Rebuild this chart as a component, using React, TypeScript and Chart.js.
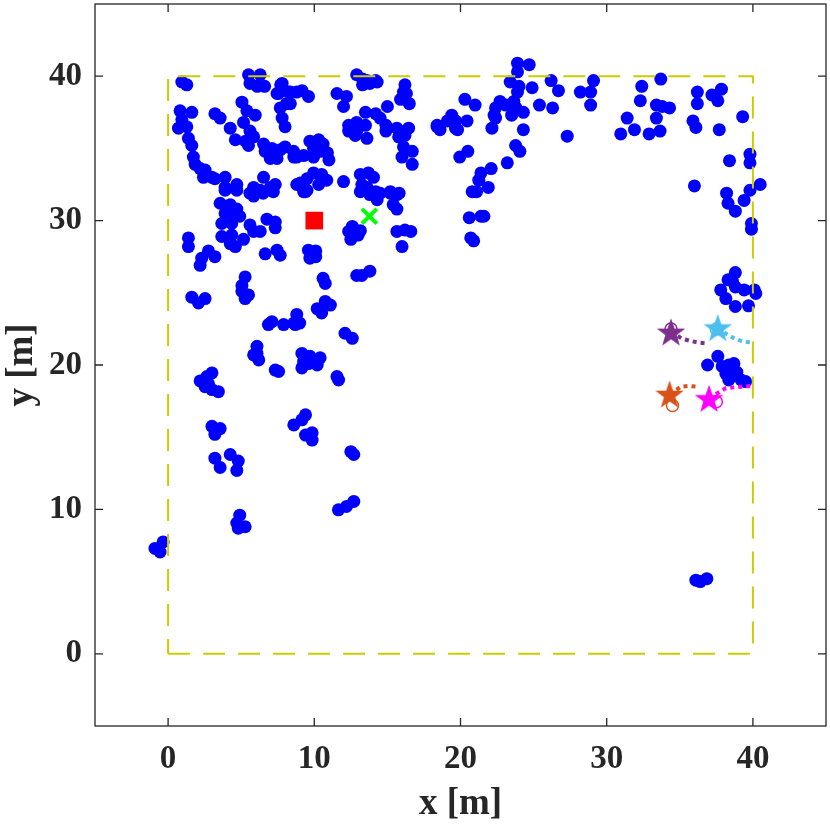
import { useEffect, useRef } from 'react'
import Chart from 'chart.js/auto'

const X_TICKS = [0, 10, 20, 30, 40]
const Y_TICKS = [0, 10, 20, 30, 40]

// dashed work area
const AREA: [number, number][] = [[0, 0], [40, 0], [40, 40], [0, 40], [0, 0]]

// obstacles (blue dots)
const OBSTACLES: [number, number][] = [
  [0.94, 39.6], [1.28, 39.4],
  [5.5, 40.1], [6.3, 40.1], [5.6, 39.5], [6.1, 39.3], [6.6, 39.3],
  [7.7, 39.4], [7.55, 38.8], [8.24, 38.9], [8.8, 38.9],
  [0.82, 37.6], [1.62, 37.5], [0.94, 37.0], [0.71, 36.4], [1.28, 36.5],
  [1.39, 35.7], [1.62, 35.2],
  [3.2, 37.4], [3.56, 37.1], [4.25, 36.4],
  [5.05, 38.2], [5.39, 37.6], [5.96, 37.3], [5.16, 36.8], [5.6, 36.2],
  [4.6, 35.6], [5.3, 35.5], [5.85, 35.8], [5.5, 35.2],
  [6.53, 35.3], [6.64, 34.8], [7.1, 35.0], [7.67, 34.9], [8.0, 35.1], [8.58, 34.8], [8.8, 34.4], [6.99, 34.3], [7.45, 34.3],
  [7.8, 39.5], [7.45, 38.8], [8.1, 38.1], [7.67, 37.8], [7.8, 37.1], [8.0, 36.5],
  [1.73, 34.4], [1.85, 33.9], [2.19, 33.6], [2.53, 33.5], [2.42, 33.0], [3.0, 33.0], [3.2, 32.9],
  [3.9, 33.0], [3.9, 32.3], [4.7, 32.5],
  [6.53, 33.0], [5.85, 32.3], [6.3, 32.1], [7.0, 32.3], [7.33, 32.5], [8.8, 32.5],
  [12.9, 40.1], [13.3, 39.8], [13.6, 39.7], [13.3, 39.4], [13.8, 39.5], [14.2, 39.7], [14.3, 39.6],
  [16.2, 39.4], [16.1, 38.9], [16.3, 38.8], [15.9, 38.4], [16.5, 38.1],
  [8.36, 38.9], [9.16, 39.0], [9.6, 38.6], [8.36, 38.1],
  [11.55, 38.8], [12.2, 38.6], [12.0, 37.9],
  [13.5, 37.5], [14.2, 37.4], [15.0, 37.9], [14.5, 37.1], [14.9, 36.6], [14.9, 36.2],
  [12.35, 36.6], [12.9, 36.8], [12.35, 36.2], [12.9, 36.2], [13.5, 36.6], [13.6, 35.7], [12.8, 35.9],
  [15.65, 36.4], [16.45, 36.4], [15.77, 35.8], [16.2, 35.9], [16.1, 35.1], [16.7, 34.8], [16.0, 34.4], [16.7, 33.9],
  [18.4, 36.5],
  [9.7, 35.5], [10.3, 35.6], [10.6, 35.3], [9.95, 35.0], [10.5, 34.8], [10.9, 34.7], [11.0, 34.2], [9.95, 34.4], [9.27, 34.5], [8.6, 34.4],
  [9.04, 32.6], [9.5, 32.9], [9.95, 33.3], [10.5, 33.2], [10.85, 32.8], [10.3, 32.5], [9.5, 32.1], [9.4, 32.0],
  [12.0, 32.7],
  [13.15, 33.2], [13.7, 33.3], [14.05, 33.0], [13.25, 32.5], [13.6, 32.3], [14.2, 32.0], [14.5, 31.9], [15.2, 32.0], [15.8, 31.9],
  [3.9, 32.1], [4.7, 32.1], [5.6, 31.9], [5.85, 31.7], [6.5, 31.9], [7.2, 32.0],
  [3.56, 31.2], [4.25, 31.1], [4.7, 30.8], [3.9, 30.5], [4.6, 30.4], [4.9, 30.3], [3.67, 29.8], [4.35, 29.8],
  [3.67, 28.9], [4.35, 29.0], [4.25, 28.4], [4.6, 28.2], [5.16, 28.7],
  [5.6, 29.7], [5.85, 29.25], [6.3, 29.25],
  [6.76, 30.1], [7.33, 29.9], [7.33, 29.5],
  [1.39, 28.8], [1.39, 28.2],
  [2.76, 27.9], [2.3, 27.4], [2.19, 26.9], [3.2, 27.5],
  [6.64, 27.7], [7.45, 27.95], [7.67, 27.6],
  [5.27, 26.1], [5.05, 25.5], [5.05, 25.1], [5.5, 24.85], [5.27, 24.6],
  [1.62, 24.7], [2.08, 24.3], [2.53, 24.6],
  [6.86, 22.8], [7.1, 23.0], [7.9, 22.8], [8.8, 23.5], [8.7, 22.8],
  [9.27, 32.0], [13.15, 32.0], [13.8, 31.8], [14.3, 31.45], [15.2, 31.9], [15.65, 31.8], [15.4, 31.1], [15.65, 30.8],
  [12.6, 29.6], [12.35, 29.25], [12.8, 29.1], [13.15, 29.3], [13.0, 29.0], [12.5, 28.7],
  [15.65, 29.25], [16.2, 29.35], [16.6, 29.25], [16.0, 28.2],
  [9.6, 27.95], [10.1, 27.9], [9.7, 27.4], [10.1, 27.5],
  [12.9, 26.2], [13.8, 26.5], [13.25, 26.2],
  [10.6, 26.0], [10.75, 25.65],
  [10.75, 24.4], [11.1, 24.15], [10.2, 23.9], [10.5, 23.6],
  [9.0, 22.9], [8.6, 22.9],
  [12.1, 22.2], [12.6, 21.85],
  [6.08, 21.3], [6.08, 20.8], [6.2, 20.35], [5.85, 20.7],
  [7.33, 19.65], [7.56, 19.55],
  [9.15, 20.8], [9.7, 20.6], [10.4, 20.5], [9.27, 20.25], [9.6, 20.1], [10.2, 20.0], [9.15, 19.8], [9.4, 20.1],
  [11.55, 19.2], [11.66, 18.96],
  [2.19, 18.9], [2.65, 19.2], [3.0, 19.45], [2.76, 18.7], [3.0, 18.3], [3.44, 18.15], [2.53, 18.5],
  [3.0, 15.75], [3.56, 15.6], [3.2, 15.2],
  [8.6, 15.85], [9.4, 16.55], [9.15, 16.2], [9.4, 15.15], [9.85, 14.8], [9.85, 15.3],
  [12.5, 14.0], [12.7, 13.8],
  [3.2, 13.55], [4.25, 13.8], [4.8, 13.35], [3.56, 12.9], [4.7, 12.7],
  [11.65, 9.97], [12.2, 10.2], [12.7, 10.55],
  [4.9, 9.6], [4.7, 9.05], [5.27, 8.8], [4.8, 8.7],
  [-0.9, 7.3], [-0.55, 7.05], [-0.34, 7.75],
  [23.9, 40.9], [24.7, 40.8], [23.9, 40.3],
  [23.4, 39.6], [24.0, 39.3], [23.9, 38.9], [24.9, 39.2],
  [26.2, 39.7], [26.7, 39.0],
  [28.2, 38.9], [28.9, 38.9], [29.1, 39.7], [28.9, 38.0],
  [20.3, 38.4], [21.0, 38.0],
  [18.4, 36.6], [18.6, 36.3], [19.1, 36.9], [19.4, 37.3], [19.66, 36.9], [19.8, 36.3], [20.45, 36.9], [19.66, 36.4],
  [22.7, 38.25], [22.4, 37.8], [22.3, 37.3], [22.4, 37.1], [23.1, 38.0], [23.65, 38.25], [23.5, 37.3], [23.8, 37.8], [24.3, 37.5], [22.15, 36.4],
  [25.4, 38.0], [26.3, 37.8], [24.3, 36.3], [27.3, 35.85],
  [23.77, 35.2], [24.06, 34.8], [23.2, 34.0],
  [19.95, 34.4], [20.5, 34.8],
  [22.1, 33.6], [21.4, 33.3], [21.25, 32.8], [21.9, 32.3],
  [20.8, 32.0], [21.1, 32.0],
  [20.6, 30.2], [21.4, 30.3], [21.6, 30.3],
  [20.7, 28.8], [20.9, 28.6],
  [32.4, 39.3], [33.7, 39.8], [32.3, 38.3], [33.4, 38.0], [33.8, 37.9], [34.3, 37.8],
  [31.4, 37.1], [30.96, 36.0], [31.9, 36.3], [32.9, 36.0], [33.65, 36.2], [33.4, 37.1],
  [36.2, 38.9], [36.2, 38.1], [35.9, 36.9], [36.1, 36.45],
  [37.2, 38.7], [37.6, 38.3], [37.85, 39.1], [37.7, 36.3], [39.3, 37.2],
  [36.0, 32.4],
  [38.4, 34.15], [39.8, 34.6], [39.8, 34.0],
  [38.2, 31.9], [38.3, 31.2], [38.8, 30.65], [39.4, 31.4], [39.8, 32.1], [40.5, 32.5],
  [39.9, 29.8], [39.9, 29.4],
  [38.8, 26.4], [38.3, 25.9], [37.8, 25.2], [38.15, 24.6], [38.8, 24.05], [38.8, 25.4], [39.4, 25.2], [39.7, 24.1], [40.2, 24.95], [40.1, 25.2], [38.6, 25.8],
  [36.9, 20.0], [37.6, 20.6], [37.9, 19.9], [38.35, 20.0], [38.7, 20.1], [38.15, 19.4], [38.6, 19.3], [38.9, 19.5], [39.2, 18.96], [39.5, 18.85], [38.35, 18.96],
  [36.1, 5.1], [36.4, 5.0], [36.85, 5.2],
]

const BASE: [number, number][] = [[10, 30]]
const TARGET: [number, number][] = [[13.77, 30.3]]

// agents: purple, cyan, orange, magenta
const AGENT_COLORS = ['#7E2F8E', '#4DBEEE', '#D95319', '#FF00FF']
const AGENT_STARS: [number, number][] = [[34.4, 22.3], [37.6, 22.6], [34.3, 18.0], [37.0, 17.7]]
const AGENT_RINGS: [number, number][] = [[34.4, 22.5], [37.5, 22.5], [34.5, 17.2], [37.5, 17.45]]
const AGENT_PATHS: [number, number][][] = [
  [[34.4, 22.3], [35.2, 21.8], [35.8, 21.65], [36.3, 21.55], [36.8, 21.5]],
  [[37.6, 22.6], [38.25, 22.1], [38.8, 21.8], [39.4, 21.6], [40.0, 21.55]],
  [[34.3, 18.0], [35.1, 18.5], [35.65, 18.55], [36.2, 18.5]],
  [[37.0, 17.7], [38.15, 18.4], [38.7, 18.45], [39.3, 18.5], [39.9, 18.55]],
]

const TEXT = '#262626'
const SERIF = '"Liberation Serif", "Times New Roman", Times, serif'

const pts = (a: [number, number][]) => a.map(([x, y]) => ({ x, y }))

function makeStar(color: string, r: number) {
  const c = document.createElement('canvas')
  const size = Math.ceil(r * 2 + 4)
  c.width = size
  c.height = size
  const g = c.getContext('2d')!
  g.beginPath()
  for (let i = 0; i < 10; i++) {
    const a = -Math.PI / 2 + (i * Math.PI) / 5
    const rr = i % 2 === 0 ? r : r * 0.4
    g.lineTo(size / 2 + rr * Math.cos(a), size / 2 + 1.5 + rr * Math.sin(a))
  }
  g.closePath()
  g.fillStyle = color
  g.fill()
  return c
}

const boxPlugin = {
  id: 'box',
  afterDraw(chart: any) {
    const { ctx, chartArea: a, scales } = chart
    ctx.save()
    ctx.strokeStyle = TEXT
    ctx.lineWidth = 1.3
    ctx.strokeRect(a.left, a.top, a.right - a.left, a.bottom - a.top)
    ctx.beginPath()
    for (const v of X_TICKS) {
      const p = scales.x.getPixelForValue(v)
      ctx.moveTo(p, a.bottom); ctx.lineTo(p, a.bottom - 8)
      ctx.moveTo(p, a.top); ctx.lineTo(p, a.top + 8)
    }
    for (const v of Y_TICKS) {
      const p = scales.y.getPixelForValue(v)
      ctx.moveTo(a.left, p); ctx.lineTo(a.left + 8, p)
      ctx.moveTo(a.right, p); ctx.lineTo(a.right - 8, p)
    }
    ctx.stroke()
    ctx.restore()
  },
}

const noPad = (s: any) => {
  s.paddingTop = 0
  s.paddingBottom = 0
  s.paddingLeft = 0
  s.paddingRight = 0
}

export default function App() {
  const chartRef = useRef<HTMLCanvasElement>(null)

  useEffect(() => {
    if (!chartRef.current) return
    let chart: Chart | null = null
    let alive = true

    const build = () => {
      if (!alive || !chartRef.current) return
      const agentSets: any[] = []
      AGENT_COLORS.forEach((color, i) => {
        agentSets.push({
          data: pts(AGENT_PATHS[i]),
          showLine: true,
          borderColor: color,
          borderWidth: 4,
          borderDash: [4, 4],
          pointRadius: 0,
          order: 5,
        })
        agentSets.push({
          data: pts([AGENT_STARS[i]]),
          pointStyle: makeStar(color, 15),
          pointRadius: 15,
          order: 3,
        })
        agentSets.push({
          data: pts([AGENT_RINGS[i]]),
          pointStyle: 'circle',
          pointRadius: 6,
          pointBackgroundColor: 'rgba(0,0,0,0)',
          pointBorderColor: color,
          pointBorderWidth: 1.5,
          order: 2,
        })
      })

      const tickFont = { family: SERIF, size: 33, weight: 'bold' as const }
      const titleFont = { family: SERIF, size: 37, weight: 'bold' as const }

      chart = new Chart(chartRef.current, {
        type: 'scatter',
        data: {
          datasets: [
            {
              data: pts(OBSTACLES),
              pointRadius: 6.5,
              pointBackgroundColor: '#0000FF',
              pointBorderWidth: 0,
              order: 10,
            },
            {
              data: pts(AREA),
              showLine: true,
              borderColor: '#CCCC00',
              borderWidth: 2,
              borderDash: [22, 13],
              pointRadius: 0,
              order: 9,
            },
            ...agentSets,
            {
              data: pts(BASE),
              pointStyle: 'rect',
              pointRadius: 12.5,
              pointBackgroundColor: '#FF0000',
              pointBorderWidth: 0,
              order: 1,
            },
            {
              data: pts(TARGET),
              pointStyle: 'crossRot',
              pointRadius: 10.5,
              pointBorderColor: '#00FF00',
              pointBorderWidth: 4,
              order: 1,
            },
          ],
        },
        options: {
          animation: false,
          responsive: true,
          maintainAspectRatio: false,
          events: [],
          layout: { autoPadding: false, padding: { top: 4, right: 4, left: 0, bottom: 0 } },
          plugins: { legend: { display: false }, tooltip: { enabled: false } },
          scales: {
            x: {
              type: 'linear',
              min: -5,
              max: 45,
              afterBuildTicks: (s: any) => { s.ticks = X_TICKS.map(value => ({ value })) },
              afterFit: (s: any) => { s.height = 104; noPad(s) },
              grid: { display: false, drawTicks: false, tickLength: 0 },
              border: { display: false },
              ticks: { padding: 14, color: TEXT, font: tickFont, maxRotation: 0, autoSkip: false },
              title: { display: true, text: 'x [m]', color: TEXT, font: titleFont, padding: { top: 0, bottom: 3 } },
            },
            y: {
              type: 'linear',
              min: -5,
              max: 45,
              afterBuildTicks: (s: any) => { s.ticks = Y_TICKS.map(value => ({ value })) },
              afterFit: (s: any) => { s.width = 95; noPad(s) },
              grid: { display: false, drawTicks: false, tickLength: 0 },
              border: { display: false },
              ticks: { padding: 13, color: TEXT, font: tickFont, autoSkip: false },
              title: { display: true, text: 'y [m]', color: TEXT, font: titleFont, padding: { top: 0, bottom: 0 } },
            },
          },
        },
        plugins: [boxPlugin],
      })
    }

    Promise.all([
      document.fonts.load('bold 33px "Liberation Serif"'),
      document.fonts.load('bold 37px "Liberation Serif"'),
    ]).then(build, build)

    return () => {
      alive = false
      chart?.destroy()
    }
  }, [])

  return (
    <div style={{ position: 'fixed', left: 0, top: 0, width: 830, height: 830, background: '#fff' }}>
      <canvas ref={chartRef} />
    </div>
  )
}
